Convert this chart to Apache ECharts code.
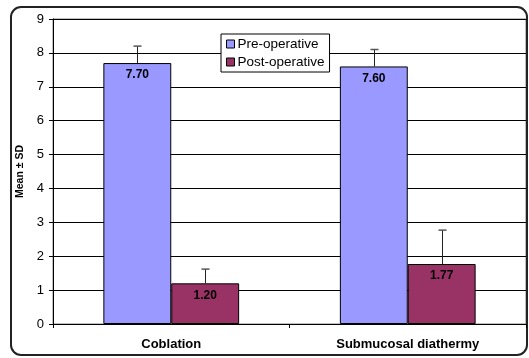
<!DOCTYPE html>
<html>
<head>
<meta charset="utf-8">
<script src="https://cdn.jsdelivr.net/npm/echarts@6/dist/echarts.min.js"></script>
<style>
  html, body { margin: 0; padding: 0; background: #fff; }
  #chart { width: 529px; height: 358px; }
</style>
</head>
<body>
<div id="chart"></div>
<script>
const categories = ["Coblation", "Submucosal diathermy"];
const preMeans = [7.70, 7.60];
const preSD = [0.50, 0.50];
const postMeans = [1.20, 1.77];
const postSD = [0.42, 1.00];
const yTicks = [0, 1, 2, 3, 4, 5, 6, 7, 8, 9];

const FONT = "Arial, 'Liberation Sans', sans-serif";
const BAR_FRAC = 0.287; // bar width as a share of the category band

const chart = echarts.init(document.getElementById("chart"));

// upward error bar with a small cap, offset to sit on its bar
function errorBars(means, sds, side) {
  return {
    type: "custom",
    z: 5,
    silent: true,
    data: means.map((m, i) => [i, m, m + sds[i]]),
    renderItem: (params, api) => {
      const band = api.size([1, 0])[0];
      const dx = side * band * BAR_FRAC / 2;
      const p0 = api.coord([api.value(0), api.value(1)]);
      const p1 = api.coord([api.value(0), api.value(2)]);
      const x = Math.round(p0[0] + dx) + 0.5;
      return {
        type: "group",
        children: [
          { type: "line", shape: { x1: x, y1: p0[1], x2: x, y2: p1[1] },
            style: { stroke: "#222", lineWidth: 1 } },
          { type: "line", shape: { x1: x - 4, y1: p1[1], x2: x + 4, y2: p1[1] },
            style: { stroke: "#555", lineWidth: 1.5 } }
        ]
      };
    }
  };
}

const option = {
  backgroundColor: "#fff",
  animation: false,
  textStyle: { fontFamily: FONT },
  graphic: [{
    type: "rect",
    shape: { x: 11, y: 7, width: 516, height: 348, r: 10 },
    style: { fill: "none", stroke: "#222", lineWidth: 2 },
    z: 0
  }],
  grid: {
    left: 53, right: 3, top: 19, bottom: 34,
    show: true, borderColor: "#808080", borderWidth: 1, backgroundColor: "#fff"
  },
  legend: {
    orient: "vertical",
    left: 221, top: 34,
    padding: [3, 5, 3, 5],
    itemGap: 4,
    itemWidth: 8, itemHeight: 8,
    backgroundColor: "#fff",
    borderColor: "#000", borderWidth: 1,
    borderRadius: 0,
    textStyle: { fontFamily: FONT, fontSize: 13.5, color: "#000", padding: [0, 0, 0, -2] },
    itemStyle: { borderColor: "#000", borderWidth: 1 },
    data: [
      { name: "Pre-operative", icon: "rect" },
      { name: "Post-operative", icon: "rect" }
    ]
  },
  xAxis: {
    type: "category",
    data: categories,
    axisLine: { lineStyle: { color: "#000", width: 1 } },
    axisTick: { show: true, length: 4, lineStyle: { color: "#000" } },
    axisLabel: { color: "#000", fontFamily: FONT, fontSize: 13, fontWeight: "bold", margin: 14 }
  },
  yAxis: {
    type: "value",
    min: 0, max: 9, interval: 1,
    name: "Mean \u00b1 SD",
    nameLocation: "middle",
    nameGap: 25,
    nameTextStyle: { color: "#000", fontFamily: FONT, fontSize: 10.5, fontWeight: "bold" },
    axisLine: { show: true, lineStyle: { color: "#000", width: 1 } },
    axisTick: { show: true, length: 4, lineStyle: { color: "#000" } },
    axisLabel: {
      color: "#000", fontFamily: FONT, fontSize: 13, margin: 9,
      formatter: v => (yTicks.includes(v) ? String(v) : "")
    },
    splitLine: { show: true, lineStyle: { color: "#000", width: 1 } }
  },
  series: [
    {
      name: "Pre-operative",
      type: "bar",
      data: preMeans,
      barWidth: (BAR_FRAC * 100) + "%",
      barGap: "0%",
      itemStyle: { color: "#9999FF", borderColor: "#000", borderWidth: 1 },
      label: {
        show: true, position: "insideTop", distance: 6,
        formatter: p => p.value.toFixed(2),
        color: "#000", fontFamily: FONT, fontSize: 12, fontWeight: "bold"
      }
    },
    {
      name: "Post-operative",
      type: "bar",
      data: postMeans,
      barWidth: (BAR_FRAC * 100) + "%",
      barGap: "0%",
      itemStyle: { color: "#993366", borderColor: "#000", borderWidth: 1 },
      label: {
        show: true, position: "insideTop", distance: 6,
        formatter: p => p.value.toFixed(2),
        color: "#000", fontFamily: FONT, fontSize: 12, fontWeight: "bold"
      }
    },
    errorBars(preMeans, preSD, -1),
    errorBars(postMeans, postSD, 1)
  ]
};

chart.setOption(option);
window.addEventListener("resize", () => chart.resize());
</script>
</body>
</html>
